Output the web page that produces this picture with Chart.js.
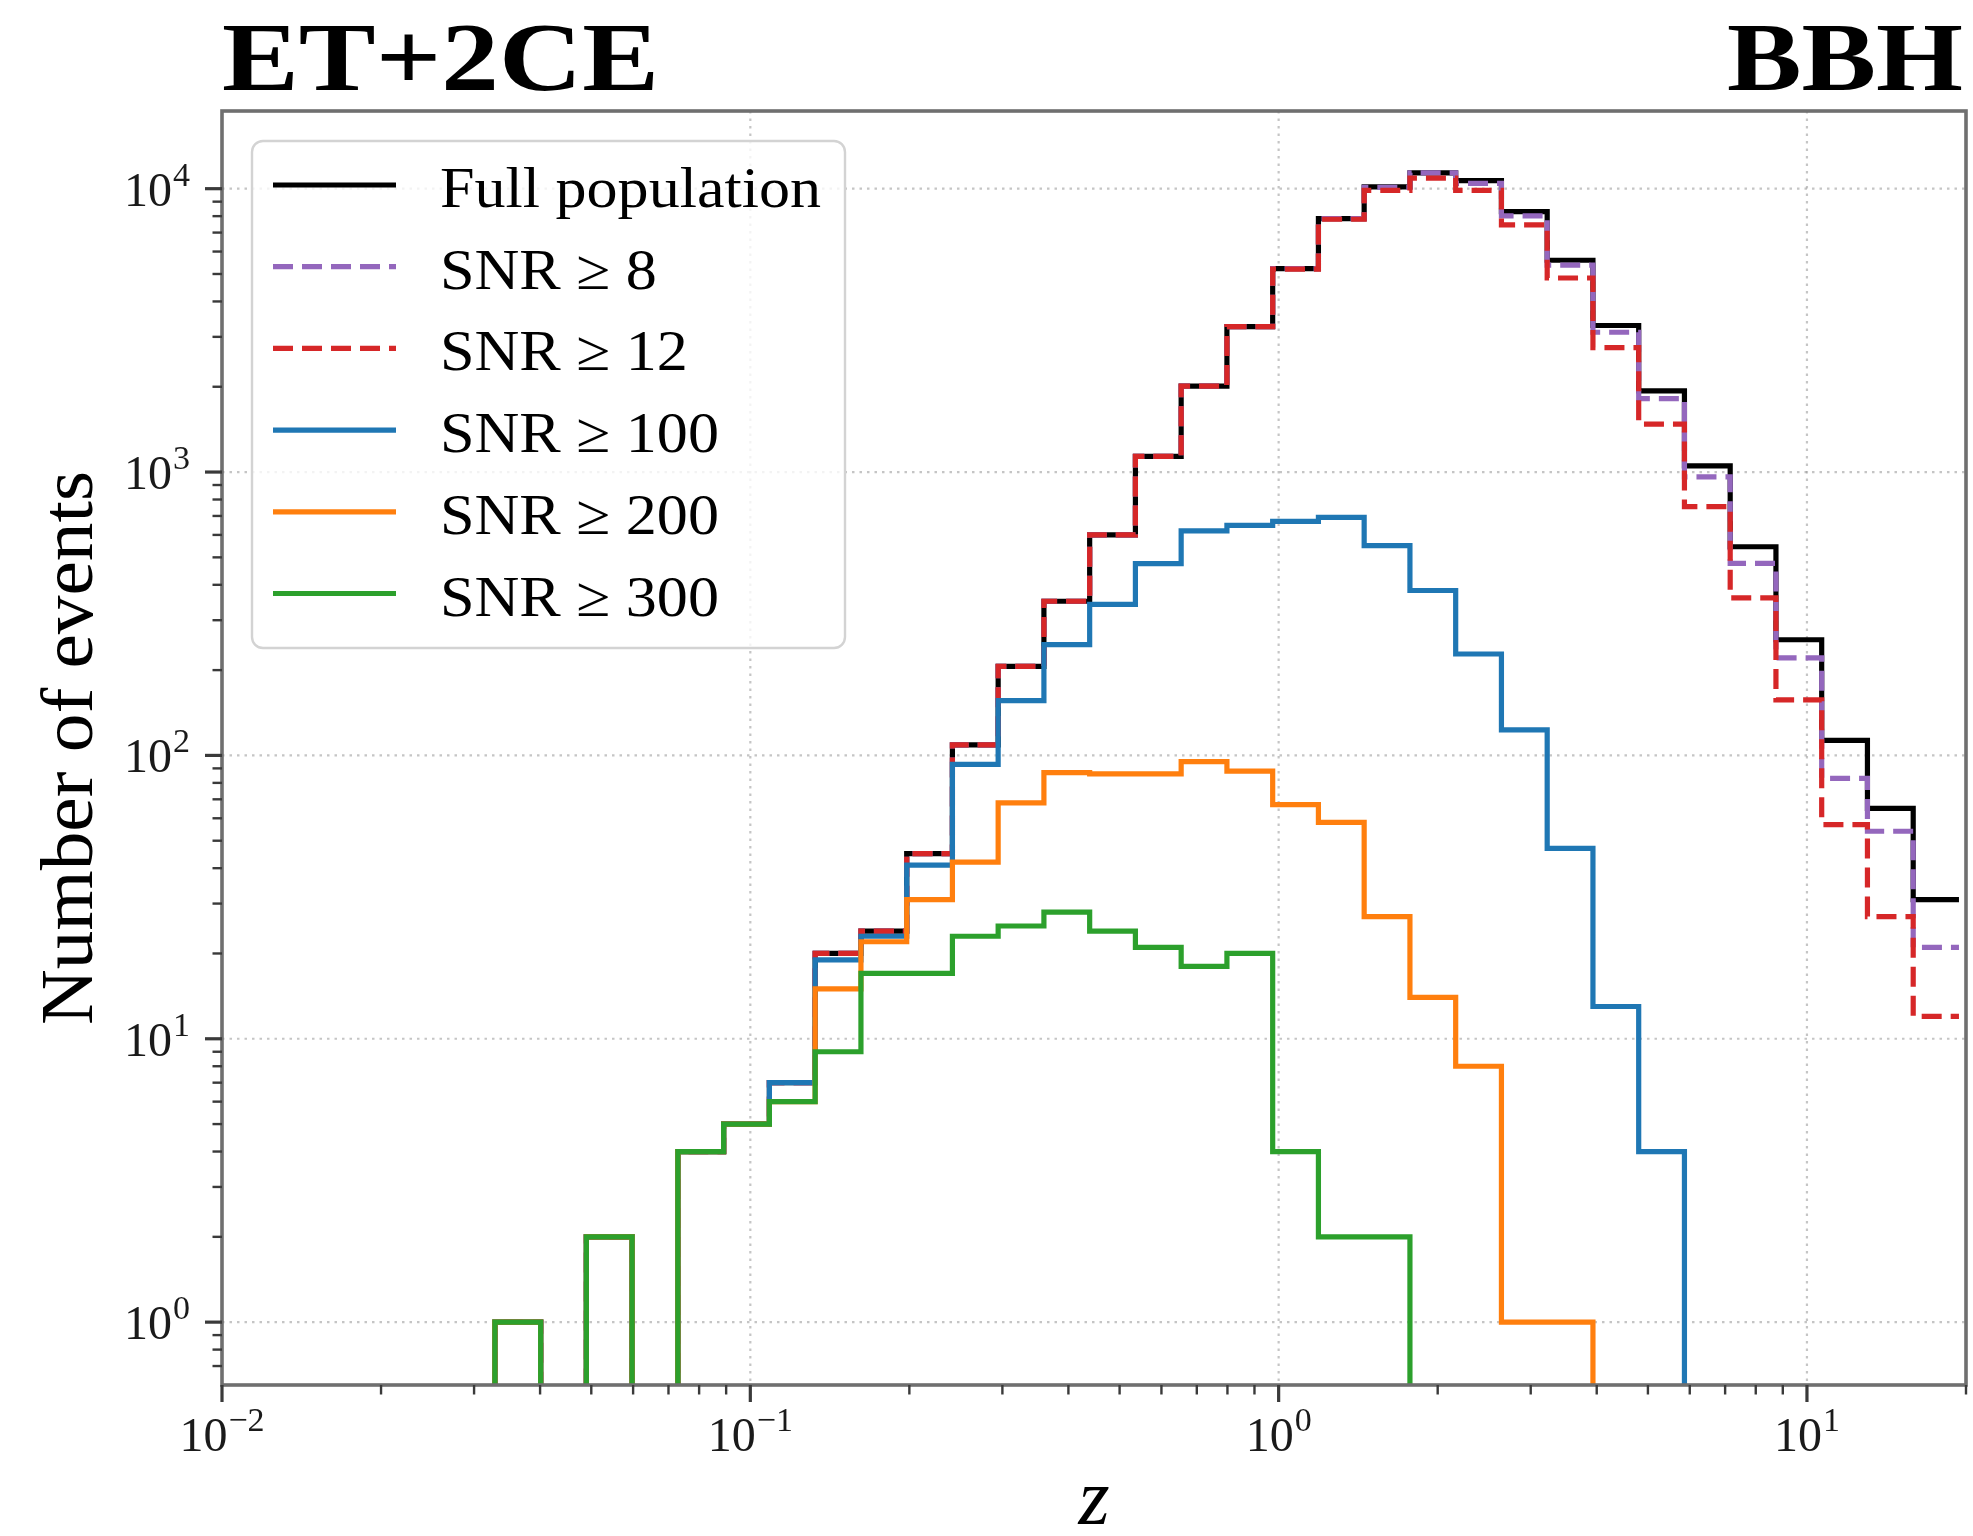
<!DOCTYPE html>
<html>
<head>
<meta charset="utf-8">
<script src="https://cdn.jsdelivr.net/npm/chart.js@4.4.1/dist/chart.umd.min.js"></script>
<style>
  html, body { margin: 0; padding: 0; background: #ffffff; }
  canvas { display: block; }
</style>
</head>
<body>
<canvas id="c" width="1973" height="1536" style="width:1973px;height:1536px"></canvas>
<script>
// ---------------- data ----------------
const binEdges = [0.032852, 0.040101, 0.048942, 0.059733, 0.072923, 0.089021, 0.10867, 0.13266,
  0.16195, 0.19770, 0.24128, 0.29451, 0.35951, 0.43884, 0.53567, 0.65388, 0.79818, 0.97432,
  1.1893, 1.4517, 1.7722, 2.1632, 2.6406, 3.2233, 3.9347, 4.8029, 5.8627, 7.1565, 8.7357,
  10.663, 13.016, 15.889, 19.396];

const fullPopulation = [1, 0, 2, 0, 4, 5, 7, 20, 24, 45, 109, 206, 350, 600, 1135, 2009, 3260, 5220,
  7840, 10150, 11380, 10680, 8300, 5590, 3290, 1935, 1052, 545, 256, 113, 65, 31];
const snr8 = [1, 0, 2, 0, 4, 5, 7, 20, 24, 45, 109, 206, 350, 600, 1135, 2009, 3260, 5220,
  7840, 10100, 11380, 10440, 8020, 5370, 3114, 1817, 961, 476, 221, 83, 54, 21];
const snr12 = [1, 0, 2, 0, 4, 5, 7, 20, 24, 45, 109, 206, 350, 600, 1135, 2009, 3260, 5200,
  7800, 9860, 10900, 9860, 7450, 4840, 2750, 1477, 755, 360, 157, 57, 27, 12];
const snr100 = [1, 0, 2, 0, 4, 5, 7, 19, 23, 41, 93, 156, 246, 341, 475, 620, 648, 670,
  692, 550, 382, 228, 123, 47, 13, 4, 0, 0, 0, 0, 0, 0];
const snr200 = [1, 0, 2, 0, 4, 5, 6, 15, 22, 31, 42, 68, 87, 86, 86, 95, 88, 67,
  58, 27, 14, 8, 1, 1, 0, 0, 0, 0, 0, 0, 0, 0];
const snr300 = [1, 0, 2, 0, 4, 5, 6, 9, 17, 17, 23, 25, 28, 24, 21, 18, 20, 4,
  2, 2, 0, 0, 0, 0, 0, 0, 0, 0, 0, 0, 0, 0];

const seriesLabels = ['Full population', 'SNR \u2265 8', 'SNR \u2265 12', 'SNR \u2265 100', 'SNR \u2265 200', 'SNR \u2265 300'];
const seriesColors = ['#000000', '#9467bd', '#d62728', '#1f77b4', '#ff7f0e', '#2ca02c'];
const seriesDashed = [false, true, true, false, false, false];

const xTickValues = [0.01, 0.1, 1, 10];
const xTickExponents = ['\u22122', '\u22121', '0', '1'];
const yTickValues = [1, 10, 100, 1000, 10000];
const yTickExponents = ['0', '1', '2', '3', '4'];

const titleLeft = 'ET+2CE';
const titleRight = 'BBH';
const xLabel = 'z';
const yLabel = 'Number of events';

const X_MIN = 0.01, X_MAX = 20, Y_MIN = 0.627, Y_MAX = 18800;

// ---------------- build step outlines ----------------
const BELOW = 0.05; // empty bins drop below the visible log axis
function stepPoints(counts) {
  const n = counts.length;
  const pts = [{ x: binEdges[0], y: BELOW }];
  for (let i = 0; i < n; i++) {
    pts.push({ x: binEdges[i], y: counts[i] > 0 ? counts[i] : BELOW });
  }
  // outline ends at the last edge (at the right spine)
  pts.push({ x: binEdges[n], y: counts[n - 1] > 0 ? counts[n - 1] : BELOW });
  return pts;
}
const allSeries = [fullPopulation, snr8, snr12, snr100, snr200, snr300];
const LW = 5.2;
const DASH = [20, 9];

const datasets = allSeries.map((s, i) => ({
  label: seriesLabels[i],
  data: stepPoints(s),
  borderColor: seriesColors[i],
  backgroundColor: seriesColors[i],
  borderWidth: LW,
  borderDash: seriesDashed[i] ? DASH : [],
  borderCapStyle: 'butt',
  borderJoinStyle: 'miter',
  pointRadius: 0,
  stepped: 'before',
  fill: false,
  tension: 0,
  clip: 0,
  order: allSeries.length - i
}));

// ---------------- drawing helpers ----------------
const SERIF = '"Liberation Serif", "Times New Roman", serif';

function drawPow(ctx, base, exp, x, y, align, size) {
  const bf = size + 'px ' + SERIF;
  const ef = Math.round(size * 0.7) + 'px ' + SERIF;
  ctx.font = bf; const wb = ctx.measureText(base).width;
  ctx.font = ef; const we = ctx.measureText(exp).width;
  const total = wb + 1 + we;
  let x0 = x;
  if (align === 'center') x0 = x - total / 2;
  else if (align === 'right') x0 = x - total;
  ctx.textAlign = 'left';
  ctx.textBaseline = 'alphabetic';
  ctx.font = bf; ctx.fillText(base, x0, y);
  ctx.font = ef; ctx.fillText(exp, x0 + wb + 1, y - size * 0.42);
}

function drawStretched(ctx, text, x, y, font, sx, align) {
  ctx.save();
  ctx.font = font;
  ctx.textAlign = 'left';
  ctx.textBaseline = 'alphabetic';
  const w = ctx.measureText(text).width * sx;
  let x0 = x;
  if (align === 'center') x0 = x - w / 2;
  else if (align === 'right') x0 = x - w;
  ctx.translate(x0, y);
  ctx.scale(sx, 1);
  ctx.fillText(text, 0, 0);
  ctx.restore();
}

function fitScale(ctx, text, font, targetWidth) {
  ctx.font = font;
  return targetWidth / ctx.measureText(text).width;
}

function minorValues(min, max) {
  const out = [];
  for (let k = -3; k <= 5; k++) {
    for (let m = 2; m <= 9; m++) {
      const v = m * Math.pow(10, k);
      if (v >= min && v <= max) out.push(v);
    }
  }
  return out;
}

const mplPlugin = {
  id: 'mplAxes',
  beforeDatasetsDraw(chart) {
    const { ctx, chartArea: a } = chart;
    const xs = chart.scales.x, ys = chart.scales.y;
    ctx.save();
    ctx.strokeStyle = 'rgba(150,150,150,0.55)';
    ctx.lineWidth = 2.2;
    ctx.setLineDash([2.5, 5]);
    xTickValues.forEach(v => {
      const px = xs.getPixelForValue(v);
      if (px < a.left + 1 || px > a.right - 1) return;
      ctx.beginPath(); ctx.moveTo(px, a.top); ctx.lineTo(px, a.bottom); ctx.stroke();
    });
    yTickValues.forEach(v => {
      const py = ys.getPixelForValue(v);
      if (py < a.top + 1 || py > a.bottom - 1) return;
      ctx.beginPath(); ctx.moveTo(a.left, py); ctx.lineTo(a.right, py); ctx.stroke();
    });
    ctx.restore();
  },
  afterDatasetsDraw(chart) {
    const { ctx, chartArea: a } = chart;
    const xs = chart.scales.x, ys = chart.scales.y;
    ctx.save();

    // spines
    ctx.strokeStyle = '#6f6f6f';
    ctx.lineWidth = 3.6;
    ctx.setLineDash([]);
    ctx.strokeRect(a.left, a.top, a.right - a.left, a.bottom - a.top);

    // ticks
    ctx.strokeStyle = '#3a3a3a';
    const MAJ = 17, MIN = 9.5;
    ctx.lineWidth = 3.2;
    xTickValues.forEach(v => {
      const px = xs.getPixelForValue(v);
      ctx.beginPath(); ctx.moveTo(px, a.bottom); ctx.lineTo(px, a.bottom + MAJ); ctx.stroke();
    });
    yTickValues.forEach(v => {
      const py = ys.getPixelForValue(v);
      ctx.beginPath(); ctx.moveTo(a.left, py); ctx.lineTo(a.left - MAJ, py); ctx.stroke();
    });
    ctx.lineWidth = 2.4;
    minorValues(X_MIN, X_MAX).forEach(v => {
      const px = xs.getPixelForValue(v);
      ctx.beginPath(); ctx.moveTo(px, a.bottom); ctx.lineTo(px, a.bottom + MIN); ctx.stroke();
    });
    minorValues(Y_MIN, Y_MAX).forEach(v => {
      const py = ys.getPixelForValue(v);
      ctx.beginPath(); ctx.moveTo(a.left, py); ctx.lineTo(a.left - MIN, py); ctx.stroke();
    });

    // tick labels
    ctx.fillStyle = '#1a1a1a';
    xTickValues.forEach((v, i) => {
      drawPow(ctx, '10', xTickExponents[i], xs.getPixelForValue(v), a.bottom + 66, 'center', 48);
    });
    yTickValues.forEach((v, i) => {
      drawPow(ctx, '10', yTickExponents[i], a.left - 32, ys.getPixelForValue(v) + 17, 'right', 48);
    });

    // axis labels
    ctx.fillStyle = '#000000';
    drawStretched(ctx, xLabel, (a.left + a.right) / 2, 1524, 'italic 80px ' + SERIF, 1.0, 'center');
    ctx.save();
    ctx.translate(92, (a.top + a.bottom) / 2);
    ctx.rotate(-Math.PI / 2);
    const ylFont = '74px ' + SERIF;
    drawStretched(ctx, yLabel, 0, 0, ylFont, fitScale(ctx, yLabel, ylFont, 554), 'center');
    ctx.restore();

    // titles
    const tFont = 'bold 98px ' + SERIF;
    drawStretched(ctx, titleLeft, a.left, 90, tFont, fitScale(ctx, titleLeft, tFont, 437), 'left');
    drawStretched(ctx, titleRight, a.right - 3, 90, tFont, fitScale(ctx, titleRight, tFont, 236), 'right');

    // legend
    const box = { l: 252, t: 141, r: 845, b: 648 };
    ctx.beginPath();
    ctx.roundRect(box.l, box.t, box.r - box.l, box.b - box.t, 11);
    ctx.fillStyle = 'rgba(255,255,255,0.8)';
    ctx.fill();
    ctx.lineWidth = 2.4;
    ctx.strokeStyle = '#d3d3d3';
    ctx.stroke();
    const lFont = '57px ' + SERIF;
    const lsx = fitScale(ctx, seriesLabels[0], lFont, 381);
    const rowY0 = 185, rowStep = 81.7;
    seriesLabels.forEach((lab, i) => {
      const yy = rowY0 + i * rowStep;
      ctx.beginPath();
      ctx.strokeStyle = seriesColors[i];
      ctx.lineWidth = LW;
      ctx.lineCap = 'butt';
      ctx.setLineDash(seriesDashed[i] ? DASH : []);
      ctx.moveTo(273, yy); ctx.lineTo(396, yy); ctx.stroke();
      ctx.setLineDash([]);
      ctx.fillStyle = '#000000';
      drawStretched(ctx, lab, 440, yy + 22, lFont, lsx, 'left');
    });

    ctx.restore();
  }
};

new Chart(document.getElementById('c'), {
  type: 'line',
  data: { datasets },
  options: {
    responsive: false,
    animation: false,
    events: [],
    layout: { padding: { left: 222, top: 111, right: 7, bottom: 151 } },
    scales: {
      x: { type: 'logarithmic', min: X_MIN, max: X_MAX, display: false },
      y: { type: 'logarithmic', min: Y_MIN, max: Y_MAX, display: false }
    },
    plugins: { legend: { display: false }, tooltip: { enabled: false } }
  },
  plugins: [mplPlugin]
});
</script>
</body>
</html>
